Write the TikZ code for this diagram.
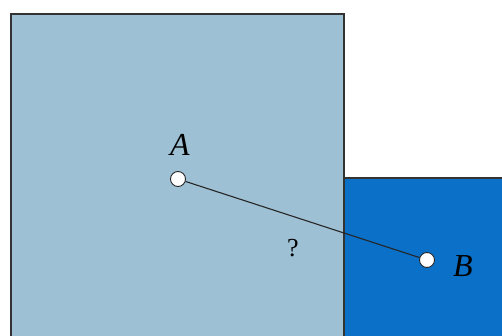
\documentclass[tikz,border=0pt]{standalone}
\usepackage{fontspec}
\setmainfont{Liberation Serif}
\definecolor{lightregion}{RGB}{158,192,212}
\definecolor{darkregion}{RGB}{10,112,200}

\begin{document}
\begin{tikzpicture}[
  x=1pt, y=-1pt,
  region/.style={draw=black!80, line width=1.6pt},
  spot/.style={circle, draw=black!85, fill=white, line width=0.9pt, minimum size=15pt, inner sep=0pt},
  tag/.style={font=\fontsize{32}{36}\selectfont\itshape, inner sep=0pt}
]
  \useasboundingbox (0,0) rectangle (502,336);
  % the two regions
  \filldraw[region, fill=lightregion] (11,14) rectangle (344,345);
  \filldraw[region, fill=darkregion] (344,178) rectangle (510,345);

  % points and the path between them
  \node[spot] (A) at (178,179) {};
  \node[spot] (B) at (427,260) {};
  \draw[black!85, line width=1.1pt] (A) -- (B);

  \node[tag] (labelA) at (180,145) {A};
  \node[tag] (labelB) at (463,266) {B};
  \node[font=\fontsize{26}{30}\selectfont, inner sep=0pt] (qmark) at (293,248) {?};
\end{tikzpicture}
\end{document}
